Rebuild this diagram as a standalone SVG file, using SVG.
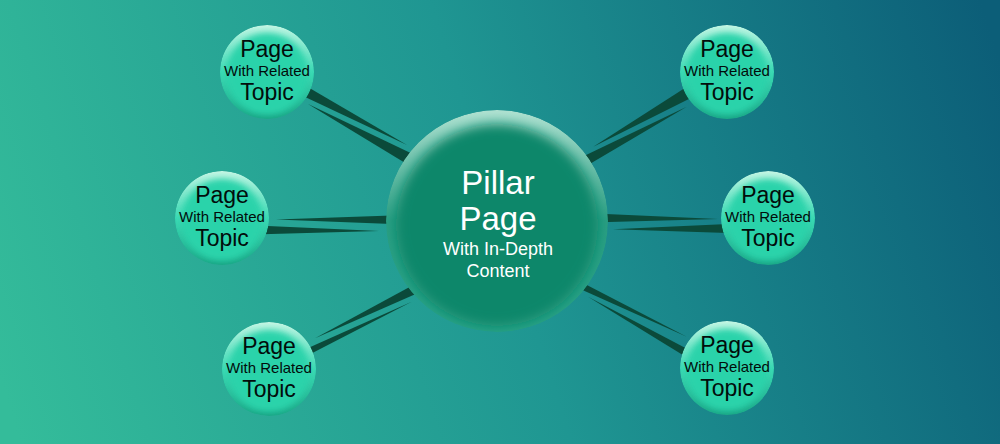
<svg xmlns="http://www.w3.org/2000/svg" xmlns:xlink="http://www.w3.org/1999/xlink" width="1000" height="444" viewBox="0 0 1000 444">
  <style>
    .wedge { fill: #0b4a3a; }
    .small { font-family: "Liberation Sans", Arial, sans-serif; fill: #020d0b; text-anchor: middle; }
    .big { font-size: 23px; }
    .mid { font-size: 15px; }
    .pill { font-family: "Liberation Sans", Arial, sans-serif; fill: #ffffff; text-anchor: middle; }
  </style>
  <defs>
    <linearGradient id="bg" gradientUnits="userSpaceOnUse" x1="0" y1="380" x2="1000" y2="60">
      <stop offset="0" stop-color="#34bc9a"/>
      <stop offset="0.5" stop-color="#1f9692"/>
      <stop offset="1" stop-color="#0c5e78"/>
    </linearGradient>
    <linearGradient id="smallRim" x1="0" y1="0" x2="0" y2="1">
      <stop offset="0" stop-color="#c4f6e4"/>
      <stop offset="0.5" stop-color="#3cdab4"/>
      <stop offset="1" stop-color="#17a383"/>
    </linearGradient>
    <linearGradient id="bigRim" x1="0" y1="0" x2="0" y2="1">
      <stop offset="0" stop-color="#b0e2d2"/>
      <stop offset="0.5" stop-color="#2a9e82"/>
      <stop offset="1" stop-color="#2aa286"/>
    </linearGradient>
    <filter id="blurS" x="-20%" y="-20%" width="140%" height="140%">
      <feGaussianBlur stdDeviation="3"/>
    </filter>
    <filter id="blurB" x="-20%" y="-20%" width="140%" height="140%">
      <feGaussianBlur stdDeviation="6"/>
    </filter>
    <clipPath id="clipS"><circle cx="0" cy="0" r="47"/></clipPath>
    <clipPath id="clipB"><circle cx="0" cy="0" r="111"/></clipPath>
    <g id="smallBall">
      <g clip-path="url(#clipS)">
        <circle cx="0" cy="0" r="47" fill="url(#smallRim)"/>
        <circle cx="0" cy="2" r="41" fill="#29d3aa" filter="url(#blurS)"/>
      </g>
      <text class="small big" x="0" y="-15">Page</text>
      <text class="small mid" x="0" y="4">With Related</text>
      <text class="small big" x="0" y="28">Topic</text>
    </g>
  </defs>

  <rect x="0" y="0" width="1000" height="444" fill="url(#bg)"/>

  <g id="connectors">
    <polygon class="wedge" points="306,86 407,145 303,96"/>
    <polygon class="wedge" points="308,104 419,157 408.5,165"/>
    <polygon class="wedge" points="276,219.5 392,215.5 392,224"/>
    <polygon class="wedge" points="262,225.8 379,231 262,234.2"/>
    <polygon class="wedge" points="315,338.3 418.8,281.9 422.5,291"/>
    <polygon class="wedge" points="411.7,301.7 305.9,349.1 306.1,356.3"/>
    <polygon class="wedge" points="593.3,146.7 688.4,85.7 693.9,96.4"/>
    <polygon class="wedge" points="686.7,106.7 584,156 588,165"/>
    <polygon class="wedge" points="600,213.7 718,219 600,222.3"/>
    <polygon class="wedge" points="613,229.3 728,224 728,233"/>
    <polygon class="wedge" points="686.7,336.7 576.7,279.8 576.3,287.2"/>
    <polygon class="wedge" points="588,296.7 692.1,351.4 688.5,358.6"/>
  </g>

  <g id="pillar" transform="translate(497,221)">
    <g clip-path="url(#clipB)">
      <circle cx="0" cy="0" r="111" fill="url(#bigRim)"/>
      <circle cx="0" cy="4" r="101" fill="#0a876b" filter="url(#blurB)"/>
    </g>
    <text class="pill" x="1" y="-27.5" font-size="33">Pillar</text>
    <text class="pill" x="1" y="9" font-size="33">Page</text>
    <text class="pill" x="1" y="34" font-size="18">With In-Depth</text>
    <text class="pill" x="1" y="56" font-size="18">Content</text>
  </g>

  <g id="topic-top-left"><use xlink:href="#smallBall" transform="translate(267,72)"/></g>
  <g id="topic-mid-left"><use xlink:href="#smallBall" transform="translate(222,218)"/></g>
  <g id="topic-bottom-left"><use xlink:href="#smallBall" transform="translate(269,369)"/></g>
  <g id="topic-top-right"><use xlink:href="#smallBall" transform="translate(727,72)"/></g>
  <g id="topic-mid-right"><use xlink:href="#smallBall" transform="translate(768,218)"/></g>
  <g id="topic-bottom-right"><use xlink:href="#smallBall" transform="translate(727,368)"/></g>
</svg>
